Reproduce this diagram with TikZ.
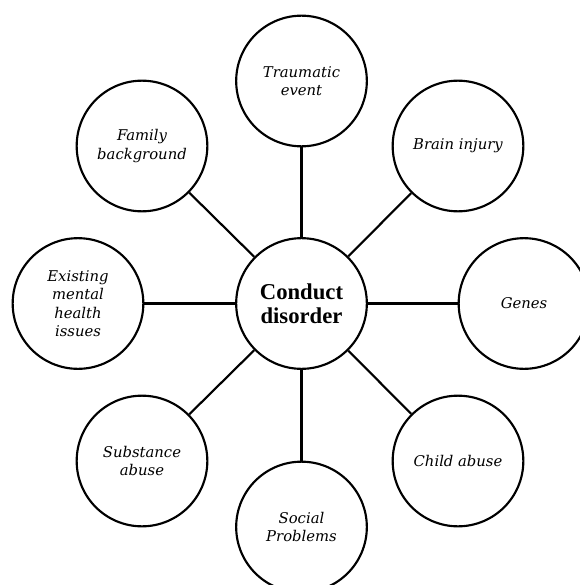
\documentclass[tikz,border=0pt]{standalone}
\usepackage{fontspec}
\setmainfont{Liberation Serif}
\newfontfamily\outerfont{DejaVu Serif}
\begin{document}
\begin{tikzpicture}[x=0.75pt,y=-0.75pt,
  bubble/.style={circle,draw=black,line width=1.6pt,minimum size=98pt,inner sep=0pt,align=center,
    font=\outerfont\itshape\fontsize{11.1pt}{13.8pt}\selectfont},
  hub/.style={bubble,font=\bfseries\fontsize{17pt}{18pt}\selectfont},
  link/.style={line width=1.6pt}]
\useasboundingbox (0,0) rectangle (579,585);
\node[hub] (c) at (301.5,303.5) {Conduct\\disorder};
\node[bubble] (t) at (301.5,81) {Traumatic\\event};
\node[bubble] (fb) at (142,146) {Family\\background};
\node[bubble] (bi) at (458,146) {Brain injury};
\node[bubble] (e) at (78,303.5) {Existing\\mental\\health\\issues};
\node[bubble] (g) at (524,303.5) {Genes};
\node[bubble] (sa) at (142,461) {Substance\\abuse};
\node[bubble] (ca) at (458,461) {Child abuse};
\node[bubble] (s) at (301.5,527) {Social\\Problems};
\foreach \n in {t,fb,bi,e,g,sa,ca,s} \draw[link] (c) -- (\n);
\end{tikzpicture}
\end{document}
